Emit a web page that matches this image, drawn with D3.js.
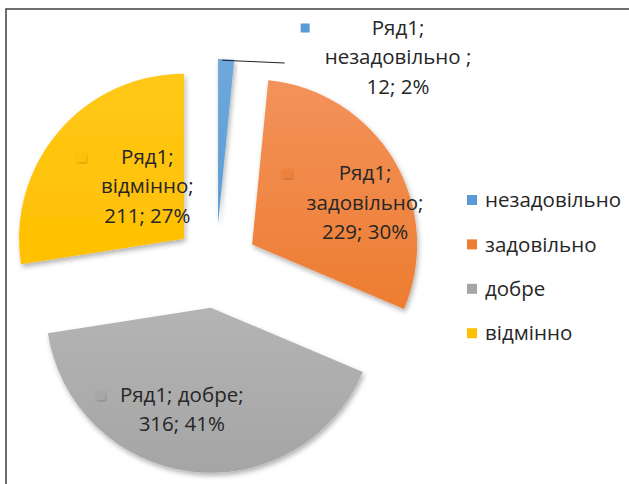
<!DOCTYPE html>
<html>
<head>
<meta charset="utf-8">
<script src="https://cdn.jsdelivr.net/npm/d3@7"></script>
<style>
  body { margin: 0; background: #fff; }
  text { font-family: "Open Sans", "Noto Sans", sans-serif; }
</style>
</head>
<body>
<div id="chart"></div>
<script>
// chart data
const SERIES = "Ряд1";
const CATEGORIES = ["незадовільно", "задовільно", "добре", "відмінно"];
const VALUES = [12, 229, 316, 211];

// styles / layout
const COLORS = ["#5B9BD5", "#ED7D31", "#A5A5A5", "#FFC000"];
const LIGHT = ["#6FA8DC", "#F3925A", "#B4B4B4", "#FFC81A"];
const FRAME_WIDTH = 629;
const FRAME_HEIGHT = 484;
const CENTER = {x: 216, y: 266};
const RADIUS = 165;
const EXPLODE = 42;
const FONT = 20.5;
const LINE_H = 29.5;
// label text centre offsets from the slice centroid, and how the text wraps
const LABEL_SHIFT = [[0, 0], [42, 0], [-19, 20], [26, 1]];
const LABEL_WRAP = [[1, 1, 1], [1, 1, 1], [2, 1], [1, 1, 1]];
const OUTSIDE = {x: 398, y: 57};

const svg = d3.select("#chart").append("svg")
  .attr("width", FRAME_WIDTH)
  .attr("height", FRAME_HEIGHT);

// frame border (top and left visible)
svg.append("rect")
  .attr("x", 6).attr("y", 9)
  .attr("width", FRAME_WIDTH + 20).attr("height", FRAME_HEIGHT + 20)
  .attr("fill", "none")
  .attr("stroke", "#4a4a4a")
  .attr("stroke-width", 1.6);

const defs = svg.append("defs");
const shadow = defs.append("filter").attr("id", "shadow")
  .attr("x", "-20%").attr("y", "-20%").attr("width", "140%").attr("height", "140%");
shadow.append("feDropShadow")
  .attr("dx", 1.5).attr("dy", 3).attr("stdDeviation", 2.5)
  .attr("flood-color", "#000").attr("flood-opacity", 0.3);

COLORS.forEach((c, i) => {
  let g = defs.append("linearGradient").attr("id", "grad" + i)
    .attr("x1", 0).attr("y1", 0).attr("x2", 0).attr("y2", 1);
  g.append("stop").attr("offset", "0%").attr("stop-color", LIGHT[i]);
  g.append("stop").attr("offset", "100%").attr("stop-color", c);
});

const total = d3.sum(VALUES);
const pie = d3.pie().sort(null).value((d) => d);
const arcs = pie(VALUES);
const arc = d3.arc().innerRadius(0).outerRadius(RADIUS);
const mid = (d) => (d.startAngle + d.endAngle) / 2;
const apex = (d) => [CENTER.x + EXPLODE * Math.sin(mid(d)),
                     CENTER.y - EXPLODE * Math.cos(mid(d))];

// slices
svg.selectAll("path.slice")
  .data(arcs)
  .enter()
  .append("path")
    .attr("class", "slice")
    .attr("transform", (d) => "translate(" + apex(d) + ")")
    .attr("d", arc)
    .attr("fill", (d, i) => "url(#grad" + i + ")")
    .attr("filter", "url(#shadow)");

// labels
function labelLines(i) {
  const pct = Math.round(VALUES[i] / total * 100);
  const sep = i === 0 ? " ;" : ";";
  const parts = [SERIES + ";", CATEGORIES[i] + sep, VALUES[i] + "; " + pct + "%"];
  let lines = [], k = 0;
  LABEL_WRAP[i].forEach((n) => {
    lines.push(parts.slice(k, k + n).join(" "));
    k += n;
  });
  return lines;
}

arcs.forEach((d, i) => {
  const lines = labelLines(i);
  let cx, cy;
  if (i === 0) {
    cx = OUTSIDE.x; cy = OUTSIDE.y;
  } else {
    const a = apex(d);
    const c = d3.arc().innerRadius(0).outerRadius(RADIUS).centroid(d);
    cx = a[0] + c[0] + LABEL_SHIFT[i][0];
    cy = a[1] + c[1] + LABEL_SHIFT[i][1];
  }
  const y0 = cy - (lines.length - 1) * LINE_H / 2;
  const t = svg.append("text")
    .attr("text-anchor", "middle")
    .attr("font-size", FONT)
    .attr("fill", "#262626");
  lines.forEach((l, j) => {
    t.append("tspan")
      .attr("x", cx)
      .attr("y", y0 + j * LINE_H)
      .attr("dy", "0.35em")
      .text(l);
  });
  const bb = t.node().getBBox();
  const mx = bb.x - 24;
  // key marker in front of the label
  svg.append("rect")
    .attr("x", mx).attr("y", y0 - 4)
    .attr("width", 9).attr("height", 9)
    .attr("fill", COLORS[i])
    .attr("opacity", i === 0 ? 1 : 0.6)
    .attr("filter", i === 0 ? null : "url(#shadow)");
  if (i === 0) {
    const a = apex(d);
    svg.append("line")
      .attr("x1", a[0] + RADIUS * Math.sin(mid(d)) - 4)
      .attr("y1", a[1] - RADIUS * Math.cos(mid(d)) + 1)
      .attr("x2", bb.x - 40)
      .attr("y2", cy + 6)
      .attr("stroke", "#222")
      .attr("stroke-width", 1);
  }
});

// legend
const legend = svg.selectAll("g.legend")
  .data(CATEGORIES)
  .enter()
  .append("g")
    .attr("class", "legend")
    .attr("transform", (d, i) => "translate(467," + (200 + i * 44.4) + ")");

legend.append("rect")
  .attr("x", 0).attr("y", -5)
  .attr("width", 10).attr("height", 10)
  .attr("fill", (d, i) => COLORS[i]);

legend.append("text")
  .attr("x", 18)
  .attr("dy", "0.35em")
  .attr("font-size", FONT)
  .attr("fill", "#262626")
  .text((d) => d);
</script>
</body>
</html>
